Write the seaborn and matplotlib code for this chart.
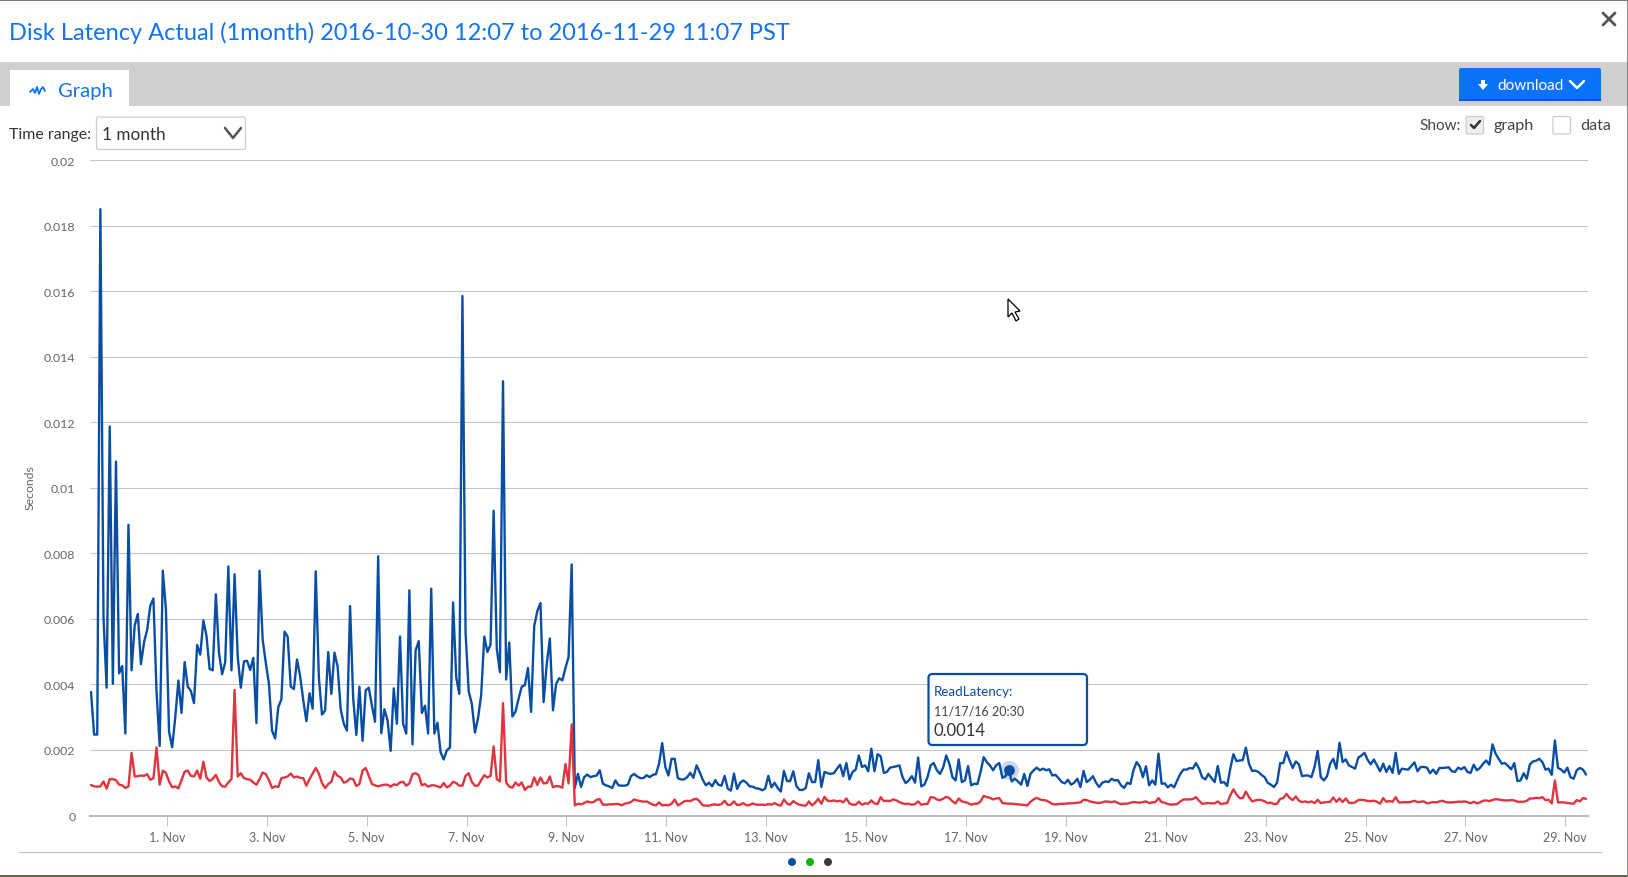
import matplotlib
matplotlib.use("Agg")
import matplotlib.pyplot as plt
import matplotlib.dates as mdates
from matplotlib.patches import Rectangle, FancyBboxPatch, Polygon, Circle
import numpy as np
import pandas as pd
import seaborn as sns

# latency values in milliseconds, one point every 90 minutes
read_ms = [
    3.77,2.47,2.47,18.5,6.05,3.9,11.87,4.02,10.8,4.34,4.56,2.5,8.87,4.43,5.8,6.15,4.62,5.29,5.67,6.4,
    6.62,3.77,2.12,7.47,6.3,2.56,2.08,3.0,4.12,3.13,4.68,3.93,3.8,3.43,5.2,4.91,5.95,5.48,4.47,4.43,
    6.75,4.97,4.31,4.68,7.6,4.43,7.36,4.85,3.9,4.7,4.72,4.44,4.81,2.82,7.47,5.36,4.66,4.02,2.59,2.35,
    3.3,3.55,5.61,5.46,3.93,3.86,4.76,4.25,3.52,2.88,3.73,3.26,7.45,
    4.22,3.08,3.2,4.99,3.71,4.97,4.55,3.24,2.8,2.59,6.39,3.57,2.46,3.93,2.28,3.82,3.9,3.35,2.86,7.91,
    2.51,3.24,2.91,1.97,3.88,2.8,5.46,2.8,2.5,6.87,2.17,5.04,5.32,3.13,3.35,2.5,6.92,2.5,2.83,1.93,
    1.71,1.99,2.07,6.5,4.22,3.71,15.85,5.59,3.79,3.41,2.53,2.97,3.68,5.46,4.99,5.21,9.3,5.1,4.37,13.25,
    4.15,5.28,3.02,3.17,3.57,3.93,3.98,4.5,3.16,5.78,6.24,6.48,3.46,4.61,5.4,3.21,4.01,4.19,4.12,4.5,
    4.83,7.66,
    .84,1.27,.87,1.17,1.25,1.17,1.2,1.22,1.38,.97,.92,.89,.84,1.07,.92,.91,.91,.94,1.2,1.27,1.19,1.14,
    1.14,1.23,1.17,1.24,1.26,1.58,2.21,1.48,1.22,1.73,1.73,1.14,1.1,1.1,1.17,1.3,1.15,1.53,1.33,1.09,
    .92,1.0,.89,1.08,.94,.91,1.21,.82,.76,1.28,.81,1.0,1.07,1.0,.89,.88,.83,.82,.77,.82,1.21,.86,1.0,
    .84,.73,1.36,1.05,1.05,1.35,.9,.78,.78,.84,1.29,1.02,1.02,1.69,
    .87,1.33,1.29,1.27,1.29,1.43,1.55,1.2,1.6,1.1,1.33,1.4,1.83,1.48,1.53,1.35,2.04,1.35,1.87,1.81,
    1.3,1.33,1.46,1.48,1.5,1.53,1.17,.99,1.07,1.2,1.0,1.77,.89,.94,1.17,1.53,1.6,1.38,1.27,1.46,
    1.83,1.58,1.17,1.07,1.71,1.02,1.07,1.51,.92,.97,.96,1.33,1.78,1.63,1.53,1.38,1.53,1.6,1.15,1.2,
    1.4,1.04,1.12,1.04,.94,1.27,.9,1.27,1.38,1.46,1.38,1.43,1.38,1.41,1.22,1.24,1.14,1.02,.98,1.09,
    .94,1.0,1.12,
    .87,1.36,1.02,1.09,1.2,1.0,.87,1.0,1.04,1.02,1.12,1.07,1.08,.92,.84,1.0,.96,1.38,1.63,1.5,1.17,1.5,
    .92,1.07,.94,1.89,.97,.98,.86,.94,.86,1.07,1.27,1.4,1.4,1.45,1.43,1.6,1.43,1.17,1.1,1.27,1.14,1.02,
    1.51,1.0,1.02,.9,1.43,1.87,1.66,1.68,1.69,2.07,1.58,1.36,1.37,1.33,1.24,1.17,1.0,.94,.87,1.0,1.6,
    1.6,1.94,1.68,1.45,1.65,1.56,1.2,1.22,1.22,1.17,1.48,1.97,1.17,1.07,1.2,1.58,1.73,1.43,2.22,
    1.63,1.71,1.53,1.48,1.43,1.76,1.83,1.91,1.7,1.56,1.71,1.53,1.35,1.58,1.33,1.51,1.3,1.91,1.27,1.43,
    1.41,1.4,1.51,1.62,1.35,1.48,1.48,1.46,1.29,1.4,1.27,1.45,1.45,1.46,1.47,1.35,1.33,1.46,1.41,1.48,
    1.33,1.3,1.55,1.38,1.45,1.58,1.68,1.55,2.17,1.89,1.73,1.58,1.6,1.51,1.41,1.6,1.05,1.07,1.29,1.12,
    1.56,1.65,1.67,1.73,1.63,1.4,1.43,1.24,2.29,1.45,1.4,1.31,1.46,1.17,1.12,1.38,1.45,1.4,1.25,
]
write_ms = [
    .93,.89,.88,.89,1.04,.82,1.11,1.11,1.08,.94,.92,.84,.89,1.91,1.19,1.2,1.22,1.21,1.26,1.09,1.14,2.08,
    .94,1.37,1.3,1.04,.86,.89,.83,1.08,1.34,1.37,1.21,1.19,1.37,1.12,1.64,1.16,1.05,1.12,1.24,1.02,.89,
    .88,1.01,1.11,3.83,1.19,1.29,1.14,1.11,1.09,1.01,.94,1.11,1.31,1.26,1.08,.84,.89,.87,1.14,1.16,1.19,
    1.28,1.16,1.19,1.15,1.14,.91,1.11,1.28,1.45,1.28,.99,.84,.96,
    1.03,1.34,1.21,1.16,1.0,1.04,1.13,1.11,.9,.96,1.37,1.45,1.21,.96,.92,.89,.92,.94,.94,.88,.95,.93,
    1.01,1.03,.91,.98,1.26,1.29,1.23,.92,.96,.88,.92,.92,.89,.86,.99,.86,.91,1.03,.99,.91,.91,1.21,1.29,
    1.03,.91,.91,1.08,1.23,1.16,1.21,2.11,1.11,1.04,3.43,1.01,.88,.85,1.01,.91,1.01,.78,.88,.88,1.16,
    .93,1.16,.98,.99,1.19,.86,.9,.89,.85,1.57,.98,2.78,
    .31,.36,.34,.38,.43,.4,.41,.48,.5,.33,.33,.34,.34,.35,.35,.31,.36,.38,.41,.49,.46,.44,.42,.43,.38,.33,
    .31,.4,.31,.32,.31,.36,.49,.31,.36,.43,.45,.44,.49,.51,.43,.31,.3,.3,.33,.34,.32,.35,.45,.32,.33,.43,
    .32,.33,.38,.31,.32,.37,.33,.33,.33,.32,.35,.33,.38,.33,.3,.49,.36,.33,.44,.37,.33,.31,.3,.43,.31,.39,
    .51,
    .36,.57,.45,.44,.46,.43,.45,.4,.52,.37,.33,.33,.42,.33,.37,.36,.46,.37,.35,.56,.44,.45,.44,.49,.46,.41,
    .37,.35,.36,.33,.35,.43,.33,.35,.35,.56,.55,.49,.47,.51,.57,.53,.43,.37,.52,.43,.41,.38,.33,.36,.36,
    .43,.6,.56,.54,.49,.52,.53,.38,.37,.36,.36,.35,.34,.33,.32,.31,.42,.49,.54,.49,.47,.46,.41,.35,.34,.35,
    .36,.36,.37,.37,.38,.39,
    .4,.48,.47,.43,.41,.39,.38,.4,.43,.42,.41,.43,.38,.35,.36,.36,.39,.41,.4,.39,.41,.43,.38,.4,.41,.53,
    .41,.39,.35,.33,.34,.35,.43,.49,.49,.49,.5,.56,.45,.36,.37,.38,.37,.37,.43,.35,.37,.38,.61,.8,.64,.53,
    .53,.73,.56,.43,.46,.48,.47,.43,.38,.39,.35,.36,.51,.53,.66,.54,.47,.58,.45,.41,.43,.4,.43,.38,.48,.38,
    .4,.41,.42,.55,.42,.52,
    .41,.52,.39,.38,.4,.47,.48,.47,.44,.44,.45,.42,.36,.53,.42,.44,.42,.56,.4,.4,.41,.4,.42,.45,.41,.42,.43,
    .37,.39,.41,.4,.43,.45,.41,.4,.4,.41,.42,.42,.43,.41,.37,.42,.37,.4,.45,.46,.44,.47,.5,.49,.47,.46,.46,
    .47,.46,.42,.42,.42,.45,.52,.52,.54,.53,.56,.47,.48,.37,1.07,.4,.4,.4,.38,.37,.36,.47,.43,.53,.51,
]

series_names = ["ReadLatency", "WriteLatency"]
y_ticks = [0, 0.002, 0.004, 0.006, 0.008, 0.01, 0.012, 0.014, 0.016, 0.018, 0.02]
y_tick_labels = ["0", "0.002", "0.004", "0.006", "0.008", "0.01", "0.012", "0.014", "0.016", "0.018", "0.02"]
x_tick_days = pd.date_range("2016-11-01", "2016-11-29", freq="2D")
hover_time = pd.Timestamp("2016-11-17 20:30")
hover_value = 0.0014

W, H = 1628, 878
BLUE = "#0a4ea3"
RED = "#e0353f"
LINK = "#1273f0"
GREY = "#666666"
GRID = "#c4c4c4"

sns.set_theme(style="white")
plt.rcParams["font.family"] = ["Lato", "DejaVu Sans"]

times = pd.date_range("2016-10-30 11:30", periods=len(read_ms), freq="90min")
df = pd.DataFrame({
    "time": list(times) * 2,
    "seconds": (np.array(read_ms + write_ms)) / 1000,
    "series": [series_names[0]] * len(read_ms) + [series_names[1]] * len(write_ms),
})

fig = plt.figure(figsize=(W / 100, H / 100), dpi=100, facecolor="white")

# plot area placed in pixels
left, right, top, bottom = 90, 1588, 161, 816.5
ax = fig.add_axes([left / W, 1 - bottom / H, (right - left) / W, (bottom - top) / H], zorder=1)
ax.patch.set_alpha(0)
sns.lineplot(data=df, x="time", y="seconds", hue="series", hue_order=series_names,
             palette=[BLUE, RED], estimator=None, linewidth=1.7, legend=False, ax=ax)
ax.set_ylim(0, 0.02)
x_start = pd.Timestamp("2016-10-30 11:01")
ax.set_xlim(x_start, x_start + pd.Timedelta(days=(right - left) / 49.94))
ax.set_yticks(y_ticks)
ax.set_yticklabels(y_tick_labels, fontsize=8.9, color=GREY)
ax.set_xticks(x_tick_days)
ax.xaxis.set_major_formatter(mdates.DateFormatter("%-d. %b"))
ax.tick_params(axis="x", length=7, width=0.75, color=GRID, labelsize=9, labelcolor=GREY, pad=4.5, bottom=True)
ax.tick_params(axis="y", length=0, pad=10.5)
ax.grid(axis="y", color=GRID, linewidth=0.75)
ax.set_axisbelow(True)
ax.set_xlabel("")
ax.set_ylabel("Seconds", fontsize=8.8, color=GREY)
ax.yaxis.set_label_coords((36 - left) / (right - left), 0.5 + (161 + 655.5 / 2 - 488) / (bottom - top))
for side in ["top", "left", "right"]:
    ax.spines[side].set_visible(False)
ax.spines["bottom"].set_color("#bdbdbd")
ax.spines["bottom"].set_linewidth(1.5)

# hovered point
ax.scatter([hover_time], [hover_value], s=190, color=BLUE, alpha=0.22, linewidths=0, zorder=5, clip_on=False)
ax.scatter([hover_time], [hover_value], s=60, color=BLUE, linewidths=0, zorder=6)

# everything around the chart, in pixel coordinates
ui = fig.add_axes([0, 0, 1, 1], zorder=2)
ui.set_xlim(0, W)
ui.set_ylim(H - 1, -1)
ui.axis("off")


def rect(x0, y0, x1, y1, **kw):
    ui.add_patch(Rectangle((x0, y0), x1 - x0, y1 - y0, linewidth=kw.pop("linewidth", 0), **kw))


def box(x0, y0, x1, y1, radius=3, **kw):
    ui.add_patch(FancyBboxPatch((x0 + radius, y0 + radius), x1 - x0 - 2 * radius, y1 - y0 - 2 * radius,
                                boxstyle=f"round,pad={radius},rounding_size={radius}", **kw))


rect(0, -1, W, 1, color="#777777")
rect(0, 875, W, H, color="#66664f")
rect(1627, -1, W, H, color="#8a8a8a")

ui.text(9, 31.5, "Disk Latency Actual (1month) 2016-10-30 12:07 to 2016-11-29 11:07 PST",
        fontsize=16.97, color=LINK, va="center", ha="left")
ui.plot([1603, 1615], [13, 25], color="#555555", lw=2)
ui.plot([1615, 1603], [13, 25], color="#555555", lw=2)

rect(0, 62, 1627, 106, color="#cfcfcf")
rect(10, 70, 129, 106, color="white")
ui.plot([30, 33, 35, 37, 39, 41, 43, 45], [92, 89, 93, 87, 94, 89, 87, 91], color=LINK, lw=1.3)
ui.text(58, 90, "Graph", fontsize=14.6, color=LINK, va="center", ha="left")

box(1459, 68, 1601, 101, radius=2, facecolor="#0b73fb", edgecolor="none")
rect(1459, 99, 1601, 101, color="#0a55e0")
ui.add_patch(Polygon([[1481, 80], [1485, 80], [1485, 84], [1488, 84], [1483, 90], [1478, 84], [1481, 84]], color="white", lw=0))
ui.text(1497, 85, "download", fontsize=11, color="white", va="center", ha="left")
ui.plot([1570, 1577, 1584], [81, 88, 81], color="white", lw=1.8)

ui.text(9, 134, "Time range:", fontsize=11.4, color="#333333", va="center", ha="left")
box(96.5, 117, 245.5, 149.5, radius=2, facecolor="white", edgecolor="#cccccc", linewidth=0.9)
ui.text(102, 134, "1 month", fontsize=12.3, color="#333333", va="center", ha="left")
ui.plot([225, 233, 241], [128, 138, 128], color="#555555", lw=1.8)

ui.text(1419, 125, "Show:", fontsize=11, color="#444444", va="center", ha="left")
box(1466, 116.5, 1483.5, 134, radius=2, facecolor="#eeeeee", edgecolor="#cccccc", linewidth=0.9)
ui.plot([1471, 1474, 1480], [125, 128, 121], color="#333333", lw=1.8)
ui.text(1493, 125, "graph", fontsize=11.6, color="#444444", va="center", ha="left")
box(1553, 116.5, 1570.5, 134, radius=2, facecolor="white", edgecolor="#cccccc", linewidth=0.9)
ui.text(1580, 125, "data", fontsize=11.6, color="#444444", va="center", ha="left")

# tooltip
box(928.5, 674, 1087, 745, radius=4, facecolor="white", edgecolor=BLUE, linewidth=1.6)
ui.text(934, 691, f"{series_names[0]}:", fontsize=9.6, color=BLUE, va="center", ha="left")
ui.text(934, 711, "11/17/16 20:30", fontsize=9, color="#444444", va="center", ha="left")
ui.text(934, 730, f"{hover_value}", fontsize=12, color="#333333", va="center", ha="left")

# mouse pointer
ui.add_patch(Polygon([[1008, 299], [1008, 317], [1012, 313], [1016, 321], [1019, 319], [1015, 312], [1020, 311]],
                     facecolor="white", edgecolor="black", linewidth=0.9))

ui.plot([19, 1601], [852, 852], color=GRID, lw=0.9)
for cx, colour in zip([792, 810, 828], [BLUE, "#0fb30f", "#3c3c3c"]):
    ui.add_patch(Circle((cx, 862), 4, color=colour, lw=0))

fig.savefig("out.png", dpi=100)
